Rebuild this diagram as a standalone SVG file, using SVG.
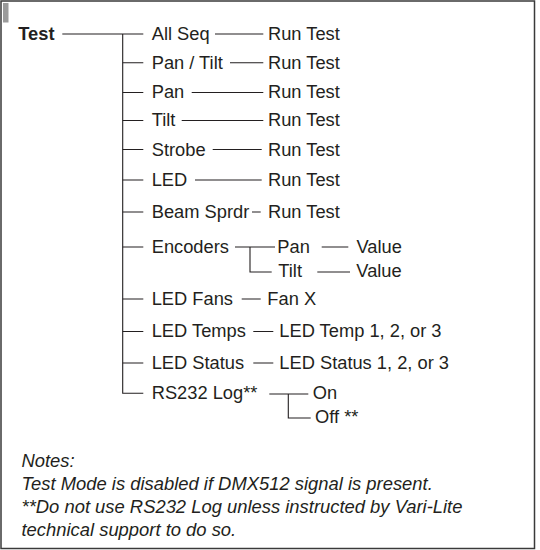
<svg xmlns="http://www.w3.org/2000/svg" width="540" height="550" viewBox="0 0 540 550">
<style>
text{font-family:"Liberation Sans",Arial,sans-serif;font-size:18.3px;fill:#231f20}
.b{font-weight:bold}
.n{font-style:italic;font-size:18.4px}
.c{fill:none;stroke:#231f20;stroke-width:1.1}
</style>
<rect x="1" y="1" width="533.5" height="547.5" fill="#fff" stroke="#3a3a3a" stroke-width="1.5"/>
<rect x="3" y="3" width="5.5" height="19.5" fill="#9a9a9a"/>
<g id="connectors" class="c">
<path d="M62.3 34H143.3M122.7 34V393.3H143.3"/>
<path d="M122.7 62.7H143.3M122.7 92.5H143.3M122.7 120.5H143.3M122.7 149.5H143.3M122.7 180H143.3M122.7 212H143.3M122.7 247H143.3M122.7 299H143.3M122.7 331.5H143.3M122.7 363H143.3"/>
<path d="M215 34H263.3M230 62.7H263.3M191.7 92.5H263.3M181.7 120.5H263.3M212.7 149.5H261.7M195 180H261.7M252 212H260.7"/>
<path d="M235 247H275M250 247V272H271.7M321.7 247H348.3M317.3 272H350"/>
<path d="M241.7 299H260.7M253.3 331.5H273.3M253.3 363H273.3"/>
<path d="M269.3 394H308.3M288.3 394V418H310.7"/>
</g>
<g id="test"><text class="b" x="18.3" y="40">Test</text></g>
<g id="allseq"><text x="151.7" y="40">All Seq</text></g>
<g id="allseq-run"><text x="268" y="40">Run Test</text></g>
<g id="pantilt"><text x="151.7" y="68.5">Pan / Tilt</text></g>
<g id="pantilt-run"><text x="268" y="68.5">Run Test</text></g>
<g id="pan"><text x="151.7" y="98">Pan</text></g>
<g id="pan-run"><text x="268" y="98">Run Test</text></g>
<g id="tilt"><text x="151.7" y="126">Tilt</text></g>
<g id="tilt-run"><text x="268" y="126">Run Test</text></g>
<g id="strobe"><text x="151.7" y="155.5">Strobe</text></g>
<g id="strobe-run"><text x="268" y="155.5">Run Test</text></g>
<g id="led"><text x="151.7" y="185.5">LED</text></g>
<g id="led-run"><text x="268" y="185.5">Run Test</text></g>
<g id="beam"><text x="151.7" y="217.5">Beam Sprdr</text></g>
<g id="beam-run"><text x="268" y="217.5">Run Test</text></g>
<g id="encoders"><text x="151.7" y="252.5">Encoders</text></g>
<g id="enc-pan"><text x="277.3" y="252.5">Pan</text></g>
<g id="enc-pan-value"><text x="356.5" y="252.5">Value</text></g>
<g id="enc-tilt"><text x="278.3" y="276.5">Tilt</text></g>
<g id="enc-tilt-value"><text x="356.3" y="276.5">Value</text></g>
<g id="ledfans"><text x="151.7" y="304.5">LED Fans</text></g>
<g id="fanx"><text x="267.3" y="304.5">Fan X</text></g>
<g id="ledtemps"><text x="151.7" y="337">LED Temps</text></g>
<g id="ledtemp"><text x="279.3" y="337">LED Temp 1, 2, or 3</text></g>
<g id="ledstatus"><text x="151.7" y="368.5">LED Status</text></g>
<g id="ledstatus-val"><text x="279.3" y="368.5">LED Status 1, 2, or 3</text></g>
<g id="rs232"><text x="151.7" y="398.5">RS232 Log**</text></g>
<g id="on"><text x="312.7" y="398.5">On</text></g>
<g id="off"><text x="315" y="422.5">Off **</text></g>
<g id="notes">
<text class="n" x="21.5" y="466.5">Notes:</text>
<text class="n" x="21.5" y="489.5">Test Mode is disabled if DMX512 signal is present.</text>
<text class="n" x="21.5" y="512.5">**Do not use RS232 Log unless instructed by Vari-Lite</text>
<text class="n" x="21.5" y="536">technical support to do so.</text>
</g>
</svg>
